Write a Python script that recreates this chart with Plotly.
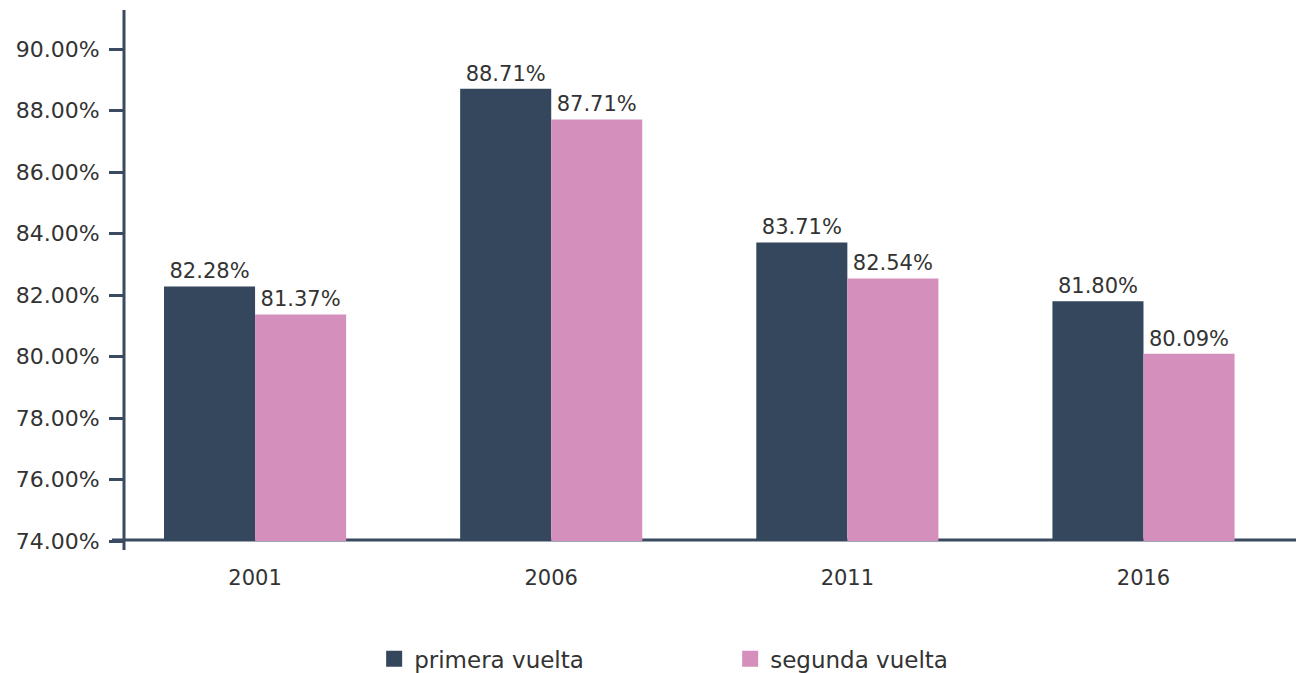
import plotly.graph_objects as go

years = ["2001", "2006", "2011", "2016"]
primera = [82.28, 88.71, 83.71, 81.80]
segunda = [81.37, 87.71, 82.54, 80.09]
series_names = ["primera vuelta", "segunda vuelta"]
colors = ["#35475d", "#d48fbd"]
y_ticks = [74, 76, 78, 80, 82, 84, 86, 88, 90]

FONT = "DejaVu Sans"
TXT = "#333333"
AX = "#3a4a60"

fig = go.Figure()
x_idx = list(range(len(years)))
for name, vals, col in zip(series_names, [primera, segunda], colors):
    fig.add_trace(go.Bar(
        x=x_idx, y=vals, name=name, marker=dict(color=col, line=dict(width=0)),
        text=[f"{v:.2f}%" for v in vals], textposition="outside",
        textfont=dict(family=FONT, size=21, color=TXT), cliponaxis=False,
        showlegend=False,
    ))
# legend entries with large square swatches
for name, col in zip(series_names, colors):
    fig.add_trace(go.Scatter(
        x=[None], y=[None], mode="markers", name=name,
        marker=dict(symbol="square", size=22, color=col), showlegend=True,
    ))

# page body has an 8px margin: size the figure to end at the window edge
fig.update_layout(
    width=1296, height=665,
    margin=dict(l=116, r=0, t=2, b=132, autoexpand=False),
    paper_bgcolor="white", plot_bgcolor="white",
    barmode="group", bargap=0.385, bargroupgap=0,
    font=dict(family=FONT, size=21, color=TXT),
    showlegend=True,
    legend=dict(orientation="h", x=0.212, xanchor="left", y=-0.222, yanchor="middle",
                entrywidth=311, entrywidthmode="pixels",
                font=dict(family=FONT, size=23, color=TXT), itemwidth=30),
    xaxis=dict(range=[-0.4426, 3.542], tickmode="array", tickvals=x_idx, ticktext=years,
               showgrid=False, zeroline=False, showline=False, ticks="",
               ticklabelstandoff=22, automargin=False,
               tickfont=dict(family=FONT, size=21, color=TXT)),
    yaxis=dict(range=[74, 91.27], tickmode="array", tickvals=y_ticks,
               ticktext=[f"{t:.2f}%" for t in y_ticks],
               showgrid=False, zeroline=False, showline=False, automargin=False,
               ticks="outside", ticklen=14, tickwidth=3, tickcolor=AX,
               ticklabelstandoff=5,
               tickfont=dict(family=FONT, size=22, color=TXT)),
)

# axis lines
fig.add_shape(type="line", xref="paper", yref="paper", x0=-12/1180, x1=1, y0=0.002, y1=0.002,
              line=dict(color=AX, width=3), layer="below")
fig.add_shape(type="line", xref="paper", yref="paper", x0=0, x1=0, y0=-9/531, y1=1,
              line=dict(color=AX, width=3))

fig.write_html("out.html")
